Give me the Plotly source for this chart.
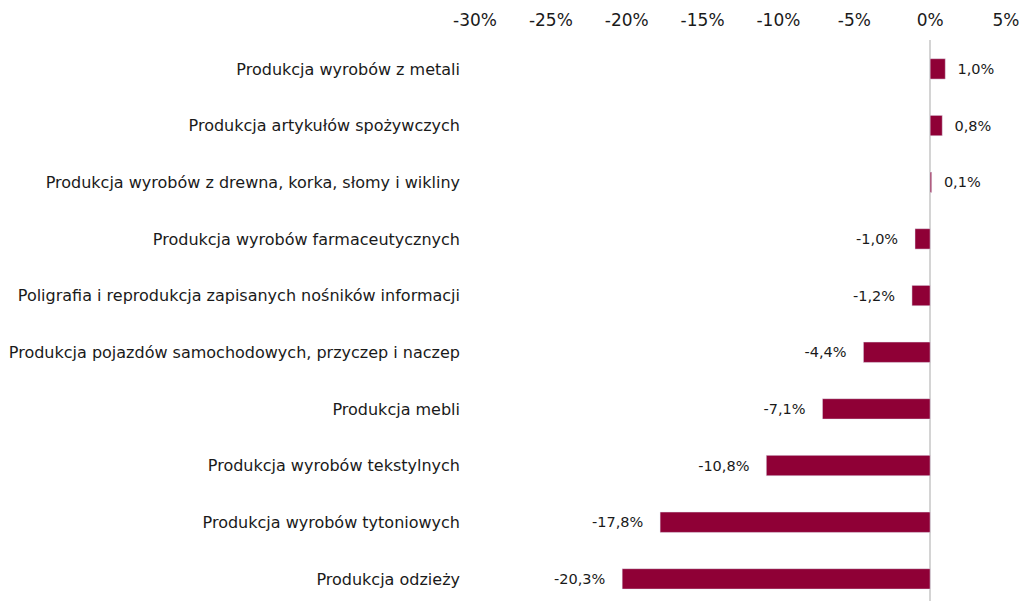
import plotly.graph_objects as go

# categories (top to bottom) and their change in %
categories = [
    "Produkcja wyrobów z metali",
    "Produkcja artykułów spożywczych",
    "Produkcja wyrobów z drewna, korka, słomy i wikliny",
    "Produkcja wyrobów farmaceutycznych",
    "Poligrafia i reprodukcja zapisanych nośników informacji",
    "Produkcja pojazdów samochodowych, przyczep i naczep",
    "Produkcja mebli",
    "Produkcja wyrobów tekstylnych",
    "Produkcja wyrobów tytoniowych",
    "Produkcja odzieży",
]
values = [1.0, 0.8, 0.1, -1.0, -1.2, -4.4, -7.1, -10.8, -17.8, -20.3]

tick_vals = [-30, -25, -20, -15, -10, -5, 0, 5]
tick_labels = ["-30%", "-25%", "-20%", "-15%", "-10%", "-5%", "0%", "5%"]

# polish decimal comma, padded away from the bar end
labels = []
for v in values:
    s = f"{v:.1f}%".replace(".", ",")
    labels.append("  " + s if v >= 0 else s + "   ")

bars = go.Bar(
    x=values, y=categories, orientation="h",
    marker=dict(color="#8F0036"),
    width=0.36,
    text=labels, textposition="outside", cliponaxis=False,
    textfont=dict(size=14.5, color="#1a1a1a"),
)

fig = go.Figure(data=[bars])
# page body adds 8px offset, margins compensate for it
fig.update_layout(
    width=1030, height=601,
    margin=dict(l=467, r=32, t=32, b=8),
    plot_bgcolor="white", paper_bgcolor="white",
    font=dict(family="DejaVu Sans, Verdana, sans-serif", size=16, color="#1a1a1a"),
    showlegend=False,
    xaxis=dict(
        side="top", range=[-30, 5],
        tickvals=tick_vals, ticktext=tick_labels,
        tickfont=dict(size=17),
        showgrid=False, showline=False, ticks="",
        ticklabelstandoff=10, automargin=False,
        zeroline=True, zerolinecolor="#d4d4d4", zerolinewidth=1.5,
    ),
    yaxis=dict(
        range=[9.39, -0.51],
        showgrid=False, showline=False, ticks="",
        ticklabelstandoff=14, automargin=False,
        tickfont=dict(size=16),
    ),
)

fig.write_html("out.html")
